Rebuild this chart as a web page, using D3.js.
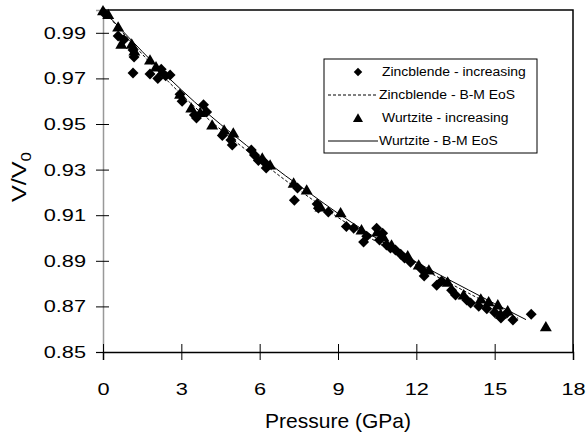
<!DOCTYPE html>
<html>
<head>
<meta charset="utf-8">
<title>V/V0 vs Pressure</title>
<script src="https://d3js.org/d3.v7.min.js"></script>
<style>
  body { margin: 0; background: #fff; }
  svg text { font-family: "Liberation Sans", Arial, sans-serif; fill: #000; }
</style>
</head>
<body>
<svg id="chart" width="587" height="434"></svg>
<script>
// zincblende - increasing (diamonds)
const zbP = [0.04, 0.58, 0.8, 1.15, 1.19, 1.15, 1.8, 2.1, 2.23, 2.57, 2.4, 2.95, 3.03, 3.5, 3.58, 3.85, 3.97,
  4.57, 4.9, 4.95, 5.68, 5.8, 5.95, 6.2, 6.25, 7.33, 7.45, 8.2, 8.25, 8.63, 9.32, 9.6, 9.98, 10.1,
  10.48, 10.59, 10.71, 10.86, 11.01, 11.2, 11.4, 11.55, 11.78, 12.2, 12.3, 12.78, 12.97, 13.35, 13.5,
  13.93, 14.08, 14.39, 14.7, 15.0, 15.24, 15.47, 15.7, 16.4];
const zbV = [0.9987, 0.9886, 0.987, 0.9825, 0.9794, 0.9724, 0.9719, 0.970, 0.974, 0.9715, 0.9711, 0.963, 0.960,
  0.954, 0.9526, 0.9584, 0.9553, 0.945, 0.943, 0.9408, 0.9386, 0.9364, 0.934, 0.933, 0.9307, 0.9166,
  0.9219, 0.9149, 0.9131, 0.9114, 0.905, 0.9043, 0.8982, 0.9008, 0.9043, 0.8991, 0.9021, 0.8969,
  0.8956, 0.8947, 0.8929, 0.8912, 0.8894, 0.8863, 0.8833, 0.8793, 0.8811, 0.8771, 0.875, 0.8728,
  0.8715, 0.8701, 0.869, 0.8673, 0.8649, 0.8671, 0.864, 0.8666];

// wurtzite - increasing (triangles)
const wzP = [0.0, 0.2, 0.58, 0.7, 1.1, 1.2, 1.8, 2.03, 2.26, 2.95, 3.38, 3.72, 4.18, 4.64, 4.99, 6.1, 6.4,
  7.3, 7.8, 8.33, 9.1, 9.9, 10.5, 10.74, 11.05, 11.67, 12.09, 12.48, 13.2, 13.81, 14.47, 14.77, 15.12,
  15.23, 15.5, 16.96];
const wzV = [0.9996, 0.998, 0.9925, 0.985, 0.985, 0.982, 0.978, 0.975, 0.973, 0.963, 0.957, 0.955, 0.9495,
  0.9473, 0.946, 0.935, 0.932, 0.924, 0.921, 0.9136, 0.911, 0.9035, 0.9026, 0.9004, 0.8969, 0.8921,
  0.8881, 0.8859, 0.8806, 0.875, 0.8732, 0.872, 0.8706, 0.8666, 0.868, 0.861];

// B-M EoS fits
const zbFitP = [0, 1, 2, 3, 4, 5, 6, 7, 8, 9, 10, 11, 12, 13, 14, 15, 15.9];
const zbFitV = [1.0, 0.987, 0.9745, 0.963, 0.9525, 0.943, 0.934, 0.9252, 0.917, 0.909, 0.9017, 0.8947,
  0.888, 0.8818, 0.8758, 0.8698, 0.8648];
const wzFitP = [0, 1, 2, 3, 4, 5, 6, 7, 8, 9, 10, 11, 12, 13, 14, 15, 16.2];
const wzFitV = [1.0, 0.9878, 0.976, 0.965, 0.9547, 0.9452, 0.936, 0.9272, 0.919, 0.9108, 0.9033, 0.8962,
  0.8894, 0.8832, 0.8772, 0.8712, 0.8642];

const xTicks = [0, 3, 6, 9, 12, 15, 18];
const yTicks = [0.85, 0.87, 0.89, 0.91, 0.93, 0.95, 0.97, 0.99];

const legendItems = [
  { label: "Zincblende - increasing", kind: "diamond" },
  { label: "Zincblende - B-M EoS", kind: "dash" },
  { label: "Wurtzite - increasing", kind: "triangle" },
  { label: "Wurtzite - B-M EoS", kind: "solid" }
];

const svg = d3.select("#chart");
const pLeft = 103, pRight = 573, pTop = 10, pBottom = 352;
const stretch = 1.28; // the original lettering is wide

const x = d3.scaleLinear().domain([0, 18]).range([pLeft, pRight]);
const y = d3.scaleLinear().domain([0.85, 1.0]).range([pBottom, pTop]);

// frame: top and right border
svg.append("path")
  .attr("d", `M${pLeft},${pTop}H${pRight}V${pBottom}`)
  .attr("fill", "none").attr("stroke", "#000").attr("stroke-width", 1.5);

// y axis
const yAxis = svg.append("g").attr("transform", `translate(${pLeft},0)`)
  .call(d3.axisLeft(y).tickValues(yTicks).tickFormat(d3.format(".2f")).tickSize(7).tickPadding(10));
yAxis.select(".domain").attr("stroke", "#999").attr("stroke-width", 1.5);
yAxis.selectAll(".tick line").attr("stroke", "#000").attr("x2", -7).attr("x1", 6);
yAxis.selectAll(".tick text")
  .attr("font-size", 17).attr("font-family", "Liberation Sans, Arial, sans-serif")
  .attr("x", 0).attr("transform", `translate(-17,0) scale(${stretch},1)`);

// x axis
const xAxis = svg.append("g").attr("transform", `translate(0,${pBottom})`)
  .call(d3.axisBottom(x).tickValues(xTicks).tickSize(8));
xAxis.select(".domain").attr("stroke", "#000").attr("stroke-width", 1.5);
xAxis.selectAll(".tick line").attr("stroke", "#000").attr("y1", -8).attr("y2", 8);
xAxis.selectAll(".tick text")
  .attr("font-size", 17).attr("font-family", "Liberation Sans, Arial, sans-serif")
  .attr("y", 31).attr("transform", `scale(${stretch},1)`);

// fits
const line = d3.line().curve(d3.curveMonotoneX).x(d => x(d[0])).y(d => y(d[1]));
svg.append("path").datum(d3.zip(zbFitP, zbFitV))
  .attr("d", line).attr("fill", "none").attr("stroke", "#000")
  .attr("stroke-width", 1).attr("stroke-dasharray", "3,2");
svg.append("path").datum(d3.zip(wzFitP, wzFitV))
  .attr("d", line).attr("fill", "none").attr("stroke", "#000").attr("stroke-width", 1);

// markers
const diamond = d3.symbol().type(d3.symbolSquare).size(60);
const triangle = d3.symbol().type(d3.symbolTriangle).size(62);

svg.append("g").selectAll("path").data(d3.zip(zbP, zbV)).join("path")
  .attr("d", diamond)
  .attr("transform", d => `translate(${x(d[0])},${y(d[1])}) rotate(45)`)
  .attr("fill", "#000");

svg.append("g").selectAll("path").data(d3.zip(wzP, wzV)).join("path")
  .attr("d", triangle)
  .attr("transform", d => `translate(${x(d[0])},${y(d[1]) + 1})`)
  .attr("fill", "#000");

// legend
const lg = svg.append("g");
lg.append("rect").attr("x", 324).attr("y", 59).attr("width", 213).attr("height", 94)
  .attr("fill", "#fff").attr("stroke", "#000").attr("stroke-width", 1);
legendItems.forEach((it, i) => {
  const cy = 72 + i * 23;
  if (it.kind === "diamond") {
    lg.append("path").attr("d", d3.symbol().type(d3.symbolSquare).size(36))
      .attr("transform", `translate(358,${cy}) rotate(45)`).attr("fill", "#000");
  } else if (it.kind === "triangle") {
    lg.append("path").attr("d", d3.symbol().type(d3.symbolTriangle).size(44))
      .attr("transform", `translate(358,${cy + 1})`).attr("fill", "#000");
  } else {
    lg.append("line").attr("x1", 328).attr("x2", 378).attr("y1", cy).attr("y2", cy)
      .attr("stroke", "#000").attr("stroke-width", 1)
      .attr("stroke-dasharray", it.kind === "dash" ? "3,2" : null);
  }
  const tx = (it.kind === "diamond" || it.kind === "triangle") ? 382 : 379;
  lg.append("text").attr("transform", `translate(${tx},${cy}) scale(1.16,1)`)
    .attr("dy", "0.35em").attr("font-size", 12).text(it.label);
});

// axis titles
svg.append("text").attr("x", 338).attr("y", 428)
  .attr("text-anchor", "middle").attr("font-size", 21).text("Pressure (GPa)");

const yl = svg.append("text").attr("transform", "translate(26,177) rotate(-90) scale(1.2,1)")
  .attr("text-anchor", "middle").attr("font-size", 21);
yl.append("tspan").text("V/V");
yl.append("tspan").attr("font-size", 14).attr("dy", 5).text("0");
</script>
</body>
</html>
